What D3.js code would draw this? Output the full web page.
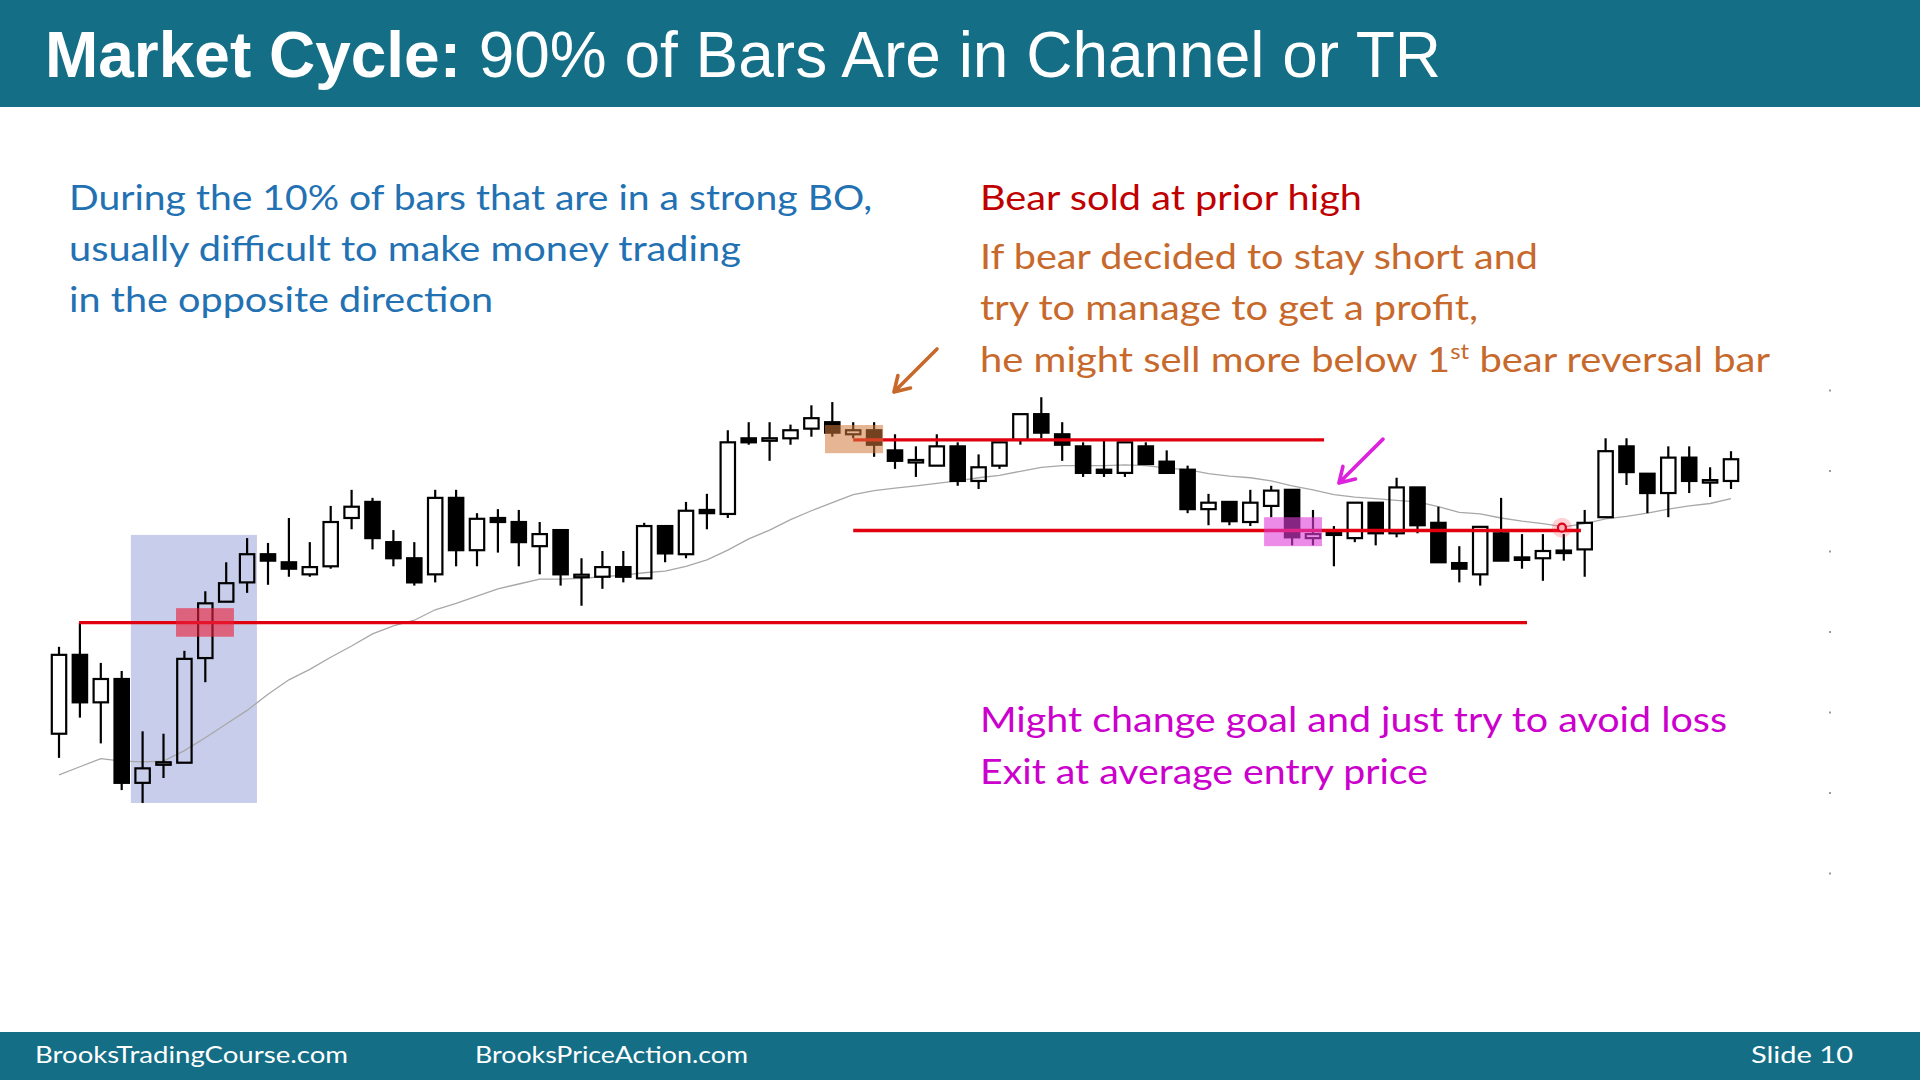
<!DOCTYPE html>
<html>
<head>
<meta charset="utf-8">
<script src="https://cdn.jsdelivr.net/npm/d3@7"></script>
<style>
  body { margin: 0; background: #fff; }
  svg { display: block; }
</style>
</head>
<body>
<div id="slide"></div>
<script>
const W = 1920, H = 1080;

// bar data (price units), one entry per bar
const opens = [57.3, 67.1, 61.2, 64.1, 51.2, 53.5, 53.7, 66.7, 73.7, 76.1,
  79.6, 78.6, 77.1, 78.1, 84.1, 86.1, 81.1, 79.1, 77.1, 86.6,
  80.1, 84.1, 83.6, 80.6, 82.6, 76.8, 76.8, 78.0, 76.6, 83.1,
  79.6, 85.1, 84.6, 94.0, 93.8, 94.0, 95.2, 96.0, 94.5, 95.0,
  92.5, 91.1, 90.6, 93.0, 88.7, 90.6, 93.8, 97.0, 94.5, 93.0,
  90.1, 89.7, 93.0, 91.1, 90.1, 85.2, 86.1, 83.6, 85.6, 87.6,
  81.6, 82.2, 81.6, 86.0, 82.2, 87.9, 83.5, 78.5, 77.1, 82.2,
  79.1, 79.1, 80.0, 80.2, 84.2, 93.0, 89.6, 87.2, 91.6, 88.6, 88.7];
const highs = [68.1, 71.1, 66.1, 65.1, 57.6, 57.3, 67.6, 75.0, 78.6, 81.6,
  81.0, 84.1, 81.1, 85.6, 87.6, 86.6, 82.6, 81.1, 87.6, 87.6,
  84.7, 85.2, 85.1, 83.6, 82.6, 79.1, 80.0, 80.0, 83.5, 83.1,
  86.1, 87.1, 95.0, 96.0, 96.0, 95.7, 98.1, 98.5, 96.0, 96.0,
  94.5, 93.0, 94.5, 93.5, 92.0, 93.5, 97.0, 99.1, 96.0, 93.5,
  93.8, 93.5, 93.5, 92.5, 90.6, 87.1, 86.1, 87.6, 88.1, 87.6,
  85.1, 83.1, 86.0, 86.0, 89.1, 87.9, 85.5, 80.6, 83.0, 86.6,
  82.1, 82.1, 82.1, 85.1, 94.0, 94.0, 89.6, 93.0, 93.0, 90.4, 92.4];
const lows = [54.3, 59.3, 56.1, 50.3, 48.7, 51.8, 53.7, 63.7, 73.7, 74.8,
  75.8, 76.8, 76.8, 77.8, 82.7, 80.2, 78.1, 75.7, 76.1, 78.1,
  78.1, 79.8, 78.1, 77.1, 75.7, 73.2, 75.3, 76.1, 76.6, 78.6,
  79.1, 82.7, 84.1, 93.2, 91.2, 93.2, 94.2, 94.2, 94.0, 91.7,
  90.2, 89.2, 90.6, 88.1, 87.7, 90.2, 93.2, 94.0, 91.2, 89.2,
  89.2, 89.2, 90.8, 89.7, 84.7, 83.2, 83.2, 83.1, 84.2, 80.7,
  80.7, 78.1, 81.1, 80.7, 81.7, 82.2, 78.6, 76.1, 75.7, 78.8,
  77.8, 76.3, 78.8, 76.8, 84.2, 88.2, 84.7, 84.2, 87.2, 86.7, 87.7];
const closes = [67.1, 61.2, 64.1, 51.2, 53.0, 53.7, 66.6, 73.5, 76.0, 79.6,
  78.8, 77.8, 78.0, 83.6, 85.5, 81.6, 79.1, 76.1, 86.6, 80.1,
  84.0, 83.6, 81.1, 82.1, 77.1, 77.0, 78.0, 76.8, 83.1, 79.7,
  85.0, 84.7, 93.5, 93.5, 93.9, 95.0, 96.5, 94.7, 95.0, 93.2,
  91.2, 91.2, 93.0, 88.7, 90.4, 93.5, 97.0, 94.7, 93.2, 89.7,
  89.7, 93.5, 90.8, 89.7, 85.2, 86.0, 83.7, 86.0, 87.5, 81.7,
  82.1, 82.1, 86.0, 82.2, 87.9, 83.2, 78.6, 77.8, 83.0, 78.8,
  79.0, 80.0, 79.8, 83.5, 92.4, 89.8, 87.2, 91.6, 88.7, 88.7, 91.4];
// moving average
const ema = [52.2, 53.2, 54.2, 53.9, 53.8, 53.9, 55.2, 56.8, 58.5, 60.2,
  62.2, 64.0, 65.3, 66.8, 68.2, 69.7, 70.7, 71.4, 72.7, 73.5,
  74.4, 75.3, 75.9, 76.5, 76.5, 76.6, 76.8, 77.0, 77.3, 77.5,
  78.1, 78.9, 80.1, 81.5, 82.6, 83.9, 85.0, 86.0, 87.0, 87.5,
  87.8, 88.1, 88.4, 88.7, 89.1, 89.4, 89.9, 90.4, 90.6, 90.6,
  90.6, 90.7, 90.6, 90.3, 90.1, 89.6, 89.3, 89.1, 88.7, 88.1,
  87.6, 87.0, 86.7, 86.5, 86.3, 86.1, 85.5, 84.8, 84.6, 84.1,
  83.7, 83.4, 83.0, 83.4, 84.0, 84.3, 84.7, 85.2, 85.6, 85.9, 86.5];
const priceTicks = [40, 50, 60, 70, 80, 90, 100];

// horizontal levels: price, first bar, last bar
const levelPrice = [71.1, 93.8, 82.55];
const levelFrom = [0.96, 38.0, 38.0];
const levelTo = [70.24, 60.53, 72.82];

// highlight zones: [bar from, bar to, price low, price high]
const strongBo = [3.44, 9.47, 48.7, 82.0];
const boEntry = [5.6, 8.37, 69.35, 72.9];
const bearEntry = [36.65, 39.43, 92.15, 95.65];
const addEntry = [57.66, 60.43, 80.6, 84.2];
const exitPoint = [71.91, 82.9];

const svg = d3.select("#slide")
  .append("svg")
  .attr("width", W)
  .attr("height", H);

const x = d3.scaleLinear().domain([0, 80]).range([59, 1731]);
const y = d3.scaleLinear().domain([40, 100]).range([873, 390]);
const bodyW = 14.4;

// header / footer
const teal = "#146e86";
svg.append("rect").attr("width", W).attr("height", 107).attr("fill", teal);
svg.append("rect").attr("y", 1032).attr("width", W).attr("height", 48).attr("fill", teal);

const title = svg.append("text")
  .attr("x", 45).attr("y", 77)
  .attr("fill", "#fff")
  .style("font-family", "'Liberation Sans', Arial, sans-serif")
  .style("font-size", "65px")
  .attr("textLength", 1396)
  .attr("lengthAdjust", "spacingAndGlyphs");
title.append("tspan").style("font-weight", "bold").text("Market Cycle:");
title.append("tspan").text(" 90% of Bars Are in Channel or TR");

const bodyFont = "Lato, 'Open Sans', sans-serif";
function line(tx, ty, str, color, len, size) {
  return svg.append("text")
    .attr("x", tx).attr("y", ty)
    .attr("fill", color)
    .style("font-family", bodyFont)
    .style("font-size", (size || 35) + "px")
    .attr("textLength", len)
    .attr("lengthAdjust", "spacingAndGlyphs")
    .text(str);
}

const blue = "#2271b3", red = "#c00000", orange = "#c8692c", magenta = "#cc00cc";
line(69, 210, "During the 10% of bars that are in a strong BO,", blue, 803);
line(69, 261, "usually difficult to make money trading", blue, 672);
line(69, 312, "in the opposite direction", blue, 424);

line(980, 210, "Bear sold at prior high", red, 382);
line(980, 269, "If bear decided to stay short and", orange, 558);
line(980, 320, "try to manage to get a profit,", orange, 498);
const sup = line(980, 372, "", orange, 790);
sup.append("tspan").text("he might sell more below 1");
sup.append("tspan").attr("dy", -13).style("font-size", "21px").text("st");
sup.append("tspan").attr("dy", 13).text(" bear reversal bar");

line(980, 732, "Might change goal and just try to avoid loss", magenta, 747);
line(980, 784, "Exit at average entry price", magenta, 448);

line(35, 1063, "BrooksTradingCourse.com", "#fff", 313, 24);
line(475, 1063, "BrooksPriceAction.com", "#fff", 273, 24);
line(1751, 1063, "Slide  10", "#fff", 102, 24);

// faint right-hand price ticks
const axis = svg.append("g")
  .attr("transform", "translate(1829,0)")
  .call(d3.axisRight(y).tickValues(priceTicks).tickSize(2).tickFormat(""));
axis.select(".domain").remove();
axis.selectAll("line").attr("stroke", "#9a9a9a").attr("stroke-width", 2);

// strong breakout zone (behind bars)
svg.append("rect")
  .attr("x", x(strongBo[0])).attr("y", y(strongBo[3]))
  .attr("width", x(strongBo[1]) - x(strongBo[0]))
  .attr("height", y(strongBo[2]) - y(strongBo[3]))
  .attr("fill", "#c8cdeb");

// moving average
svg.append("path")
  .datum(ema)
  .attr("fill", "none")
  .attr("stroke", "#a8a8a8")
  .attr("stroke-width", 1.3)
  .attr("d", d3.line().x((d, i) => x(i)).y(d => y(d)));

// candles
const bars = opens.map((o, i) => ({ i, o, h: highs[i], l: lows[i], c: closes[i] }));
const g = svg.append("g");
bars.forEach(d => {
  const cx = x(d.i);
  let top = y(Math.max(d.o, d.c)), bot = y(Math.min(d.o, d.c));
  if (bot - top < 2.5) { const m = (top + bot) / 2; top = m - 1.25; bot = m + 1.25; }
  g.append("line").attr("x1", cx).attr("x2", cx).attr("y1", y(d.h)).attr("y2", top)
    .attr("stroke", "#000").attr("stroke-width", 2.2);
  g.append("line").attr("x1", cx).attr("x2", cx).attr("y1", bot).attr("y2", y(d.l))
    .attr("stroke", "#000").attr("stroke-width", 2.2);
  g.append("rect")
    .attr("x", cx - bodyW / 2).attr("y", top)
    .attr("width", bodyW).attr("height", bot - top)
    .attr("fill", d.c >= d.o ? "none" : "#000")
    .attr("stroke", "#000").attr("stroke-width", 2.2);
});

// price levels
levelPrice.forEach((p, k) => {
  svg.append("line")
    .attr("x1", x(levelFrom[k])).attr("x2", x(levelTo[k]))
    .attr("y1", y(p)).attr("y2", y(p))
    .attr("stroke", "#e0000f").attr("stroke-width", 3.4);
});

// highlighted entries
function zone(z, color, op) {
  svg.append("rect")
    .attr("x", x(z[0])).attr("y", y(z[3]))
    .attr("width", x(z[1]) - x(z[0]))
    .attr("height", y(z[2]) - y(z[3]))
    .attr("fill", color).attr("opacity", op);
}
zone(boEntry, "#e8203c", 0.62);
zone(bearEntry, "#d27a3c", 0.55);
zone(addEntry, "#e040d8", 0.6);

// exit marker
svg.append("circle").attr("cx", x(exitPoint[0])).attr("cy", y(exitPoint[1]))
  .attr("r", 10).attr("fill", "#ff3040").attr("opacity", 0.22);
svg.append("circle").attr("cx", x(exitPoint[0])).attr("cy", y(exitPoint[1]))
  .attr("r", 4).attr("fill", "#ffb0b8").attr("stroke", "#e0001a").attr("stroke-width", 2.2);

// arrows
function arrow(x1, y1, x2, y2, color) {
  const a = Math.atan2(y2 - y1, x2 - x1), L = 17, s = 0.55;
  const p = d3.path();
  p.moveTo(x1, y1); p.lineTo(x2, y2);
  p.moveTo(x2 - L * Math.cos(a - s), y2 - L * Math.sin(a - s));
  p.lineTo(x2, y2);
  p.lineTo(x2 - L * Math.cos(a + s), y2 - L * Math.sin(a + s));
  svg.append("path").attr("d", p.toString())
    .attr("fill", "none").attr("stroke", color)
    .attr("stroke-width", 3.6).attr("stroke-linecap", "round").attr("stroke-linejoin", "round");
}
arrow(x(42.01), y(105.1), x(39.95), y(99.75), "#c8692c");
arrow(x(63.35), y(93.9), x(61.24), y(88.45), "#dd22dd");
</script>
</body>
</html>
